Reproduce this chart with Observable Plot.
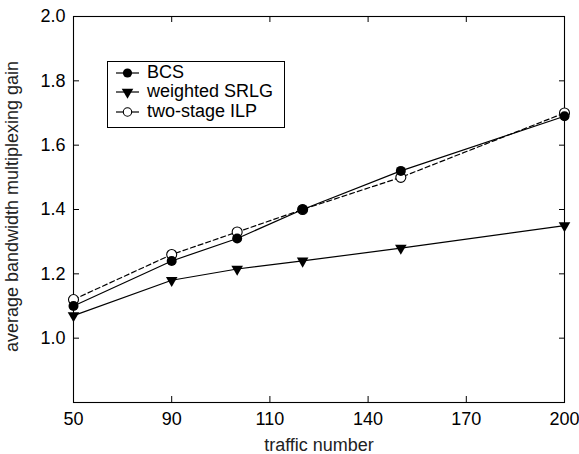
<!DOCTYPE html>
<html>
<head>
<meta charset="utf-8">
<script src="https://cdn.jsdelivr.net/npm/d3@7"></script>
<script src="https://cdn.jsdelivr.net/npm/@observablehq/plot@0.6"></script>
<style>
  html, body { margin: 0; padding: 0; background: #fff; }
  #chart { position: relative; width: 579px; height: 454px; font-family: "Liberation Sans", Arial, Helvetica, sans-serif; }
  #legend { position: absolute; left: 107px; top: 61px; width: 178px; height: 67px; box-sizing: border-box; border: 1px solid #000; background: #fff; }
  .row { position: absolute; left: 0; height: 19.5px; line-height: 19.5px; font-size: 18px; color: #000; white-space: nowrap; }
  .row svg { position: absolute; left: 0; top: 0; }
  .row span { position: absolute; left: 39px; top: 0; }
</style>
</head>
<body>
<div id="chart"></div>
<script>
// ---- data ----
const traffic = [50, 80, 100, 120, 150, 200];
const bcs = [1.10, 1.24, 1.31, 1.40, 1.52, 1.69];
const weightedSrlg = [1.07, 1.18, 1.215, 1.24, 1.28, 1.35];
const twoStageIlp = [1.12, 1.26, 1.33, 1.40, 1.50, 1.70];
const seriesNames = ["BCS", "weighted SRLG", "two-stage ILP"];
const xTickValues = [50, 80, 110, 140, 170, 200];
const xTickLabels = ["50", "90", "110", "140", "170", "200"];
const yTickValues = [1.0, 1.2, 1.4, 1.6, 1.8, 2.0];
const xLabel = "traffic number";
const yLabel = "average bandwidth multiplexing gain";

const toRows = (vals) => traffic.map((t, i) => ({x: t, y: vals[i]}));
const dBCS = toRows(bcs);
const dSRLG = toRows(weightedSrlg);
const dILP = toRows(twoStageIlp);

const plot = Plot.plot({
  width: 579,
  height: 454,
  marginLeft: 73,
  marginRight: 15,
  marginTop: 16,
  marginBottom: 52,
  style: {fontFamily: "'Liberation Sans', Arial, Helvetica, sans-serif", fontSize: "18px", background: "white", color: "black"},
  x: {domain: [50, 200], label: null},
  y: {domain: [0.8, 2.0], label: null},
  marks: [
    Plot.axisX(xTickValues, {anchor: "bottom", tickSize: -6, tickPadding: 16, tickFormat: d => xTickLabels[xTickValues.indexOf(d)], label: null}),
    Plot.axisX(xTickValues, {anchor: "top", tickSize: -5, tickFormat: () => "", label: null}),
    Plot.axisY(yTickValues, {anchor: "left", tickSize: -6, tickPadding: 14, tickFormat: d3.format(".1f"), label: null}),
    Plot.axisY(yTickValues, {anchor: "right", tickSize: -6, tickFormat: () => "", label: null}),
    Plot.frame({stroke: "black", strokeWidth: 1.1}),
    Plot.text([xLabel], {frameAnchor: "bottom", dy: 43, textAnchor: "middle", lineAnchor: "middle", text: d => d, fill: "#222"}),
    Plot.text([yLabel], {frameAnchor: "left", dx: -61, dy: -3, rotate: -90, textAnchor: "middle", lineAnchor: "middle", text: d => d, fill: "#222"}),
    Plot.line(dSRLG, {x: "x", y: "y", stroke: "black", strokeWidth: 1.2}),
    Plot.dot(dSRLG, {x: "x", y: "y", symbol: "triangle", r: 4.3, fill: "black", rotate: 180}),
    Plot.line(dILP, {x: "x", y: "y", stroke: "black", strokeWidth: 1.2, strokeDasharray: "5,3"}),
    Plot.dot(dILP, {x: "x", y: "y", symbol: "circle", r: 5, fill: "white", stroke: "black", strokeWidth: 1.1}),
    Plot.line(dBCS, {x: "x", y: "y", stroke: "black", strokeWidth: 1.2}),
    Plot.dot(dBCS, {x: "x", y: "y", symbol: "circle", r: 5, fill: "black"})
  ]
});

const chart = document.getElementById("chart");
chart.appendChild(plot);

// ---- legend ----
const legend = document.createElement("div");
legend.id = "legend";
const triPath = d3.symbol(d3.symbolTriangle, 4.3 * 4.3 * Math.PI)();
const icons = [
  `<line x1="8" x2="31" y1="10" y2="10" stroke="black" stroke-width="1.2"/><circle cx="19.5" cy="10" r="4.6" fill="black"/>`,
  `<line x1="8" x2="31" y1="10" y2="10" stroke="black" stroke-width="1.2"/><path d="${triPath}" transform="translate(19.5,10) rotate(180)" fill="black"/>`,
  `<line x1="8" x2="31" y1="10" y2="10" stroke="black" stroke-width="1.2"/><circle cx="19.5" cy="10" r="4.2" fill="white" stroke="black" stroke-width="1.1"/>`
];
seriesNames.forEach((name, i) => {
  const row = document.createElement("div");
  row.className = "row";
  row.style.top = (0.5 + 19.5 * i) + "px";
  row.style.width = "176px";
  row.innerHTML = `<svg width="36" height="20">${icons[i]}</svg><span>${name}</span>`;
  legend.appendChild(row);
});
chart.appendChild(legend);
</script>
</body>
</html>
